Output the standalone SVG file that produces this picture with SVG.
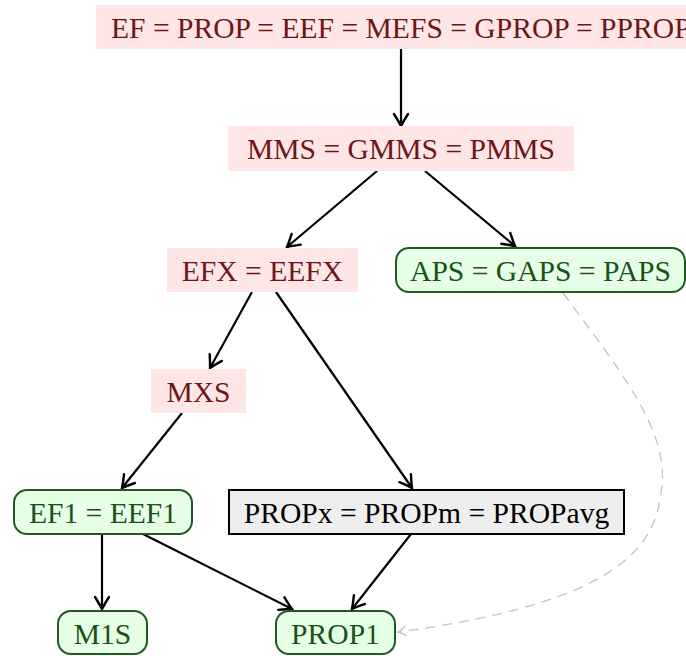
<svg xmlns="http://www.w3.org/2000/svg" width="686" height="656" viewBox="0 0 686 656">
<defs>
<style>
text{font-family:'Liberation Serif','DejaVu Serif',serif;font-size:29.6px;text-anchor:middle}
.pink rect{fill:#ffe6e6;stroke:none}
.pink text{fill:#701515}
.green rect{fill:#e6ffe6;stroke:#1e5a1e;stroke-width:2}
.green text{fill:#1a5218}
.gray rect{fill:#eeeeee;stroke:#000;stroke-width:2}
.gray text{fill:#000}
.edge{fill:none;stroke:#000;stroke-width:2.2;marker-end:url(#arr)}
.dash{fill:none;stroke:#c4c4c4;stroke-width:1.3;stroke-dasharray:10 7;marker-end:url(#arrg)}
</style>
<marker id="arr" markerUnits="userSpaceOnUse" markerWidth="30" markerHeight="30" viewBox="-15 -15 30 30" refX="0" refY="0" orient="auto" overflow="visible">
<path d="M-12,-7 Q-4,-2 0,0 Q-4,2 -12,7" fill="none" stroke="#000" stroke-width="2.4" stroke-linecap="round"/>
</marker>
<marker id="arrg" markerUnits="userSpaceOnUse" markerWidth="30" markerHeight="30" viewBox="-15 -15 30 30" refX="0" refY="0" orient="auto" overflow="visible">
<path d="M-8,-5 Q-3,-1 0,0 Q-3,1 -8,5" fill="none" stroke="#c4c4c4" stroke-width="1.3"/>
</marker>
</defs>
<rect width="686" height="656" fill="#fff"/>
<g id="connectors">
<path class="edge" d="M401,49 L401,126"/>
<path class="edge" d="M377,171 L287,247"/>
<path class="edge" d="M425,171 L515,246"/>
<path class="edge" d="M252,292 L210,368"/>
<path class="edge" d="M276,292 L412,488"/>
<path class="edge" d="M182,413 L122,488"/>
<path class="edge" d="M102,534 L102,609"/>
<path class="edge" d="M143,534 L292,609"/>
<path class="edge" d="M411,534 L352,609"/>
<path class="dash" d="M563,293 C620,370 668,430 662,485 C657,535 640,600 398,632"/>
</g>
<g font-family="Liberation Serif, DejaVu Serif, serif">
<g id="n_ef" class="pink">
<rect x="96" y="5" width="600" height="44"/>
<text x="111" y="38" style="text-anchor:start">EF = PROP = EEF = MEFS = GPROP = PPROP</text>
</g>
<g id="n_mms" class="pink">
<rect x="228" y="126" width="346" height="45"/>
<text x="401" y="159">MMS = GMMS = PMMS</text>
</g>
<g id="n_efx" class="pink">
<rect x="167" y="248" width="191" height="44"/>
<text x="262.5" y="281">EFX = EEFX</text>
</g>
<g id="n_aps" class="green">
<rect x="396" y="248" width="289" height="44" rx="13"/>
<text x="540.5" y="281">APS = GAPS = PAPS</text>
</g>
<g id="n_mxs" class="pink">
<rect x="151" y="369" width="95" height="44"/>
<text x="198.5" y="402">MXS</text>
</g>
<g id="n_ef1" class="green">
<rect x="14" y="490" width="178" height="44" rx="13"/>
<text x="103" y="523">EF1 = EEF1</text>
</g>
<g id="n_propx" class="gray">
<rect x="229" y="490" width="395" height="44"/>
<text x="426.5" y="523">PROPx = PROPm = PROPavg</text>
</g>
<g id="n_m1s" class="green">
<rect x="58" y="611" width="89" height="43" rx="13"/>
<text x="102.5" y="644">M1S</text>
</g>
<g id="n_prop1" class="green">
<rect x="276" y="611" width="119" height="43" rx="13"/>
<text x="335.5" y="644">PROP1</text>
</g>
</g>
</svg>
